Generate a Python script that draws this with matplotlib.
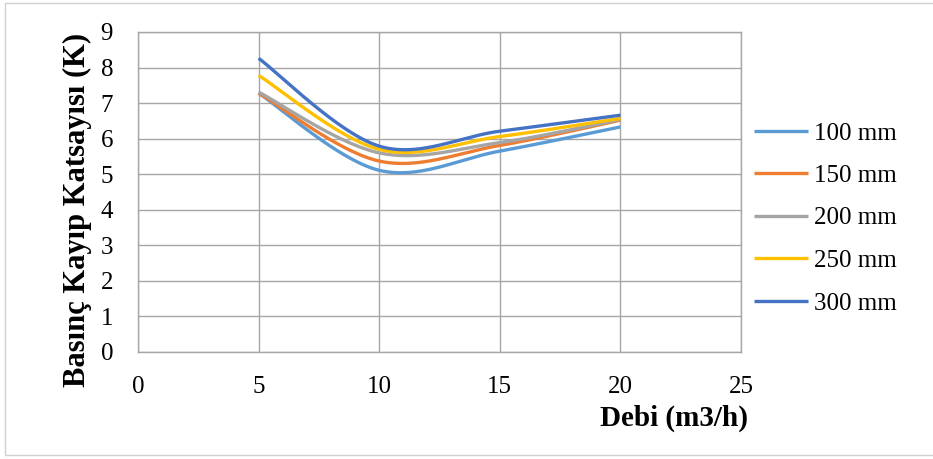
import matplotlib
matplotlib.use('Agg')
import matplotlib.pyplot as plt
import numpy as np
from matplotlib.patches import Rectangle

plt.rcParams['font.family'] = ['Liberation Serif', 'DejaVu Serif']

# flow rate (m3/h)
debi = [5, 10, 15, 20]
labels = ['100 mm', '150 mm', '200 mm', '250 mm', '300 mm']
k_100 = [7.28, 5.11, 5.65, 6.33]
k_150 = [7.28, 5.37, 5.81, 6.52]
k_200 = [7.31, 5.60, 5.89, 6.54]
k_250 = [7.78, 5.70, 6.06, 6.57]
k_300 = [8.26, 5.79, 6.21, 6.66]
colors = ['#5B9BD5', '#ED7D31', '#A5A5A5', '#FFC000', '#4472C4']


def smooth(xs, ys, n=60):
    # excel-like smoothed line (bezier through the points)
    p = np.column_stack([xs, ys]).astype(float)
    p = np.vstack([p[0], p, p[-1]])
    out = []
    t = np.linspace(0, 1, n)[:, None]
    for i in range(1, len(p) - 2):
        p0, p1, p2, p3 = p[i - 1], p[i], p[i + 1], p[i + 2]
        c1 = p1 + (p2 - p0) / 6
        c2 = p2 - (p3 - p1) / 6
        seg = (1 - t) ** 3 * p1 + 3 * t * (1 - t) ** 2 * c1 + 3 * t ** 2 * (1 - t) * c2 + t ** 3 * p2
        out.append(seg)
    out = np.vstack(out)
    return out[:, 0], out[:, 1]


W, H = 933, 459
fig = plt.figure(figsize=(W / 100, H / 100), dpi=100)
ax = fig.add_axes([138 / W, 1 - 352 / H, 603 / W, 320 / H])

series = [k_100, k_150, k_200, k_250, k_300]
for ys, lab, c in zip(series, labels, colors):
    sx, sy = smooth(debi, ys)
    ax.plot(sx, sy, color=c, lw=2.4, label=lab, solid_capstyle='butt')

ax.set_xlim(0, 25)
ax.set_ylim(0, 9)
ax.set_xticks(range(0, 26, 5))
ax.set_yticks(range(0, 10))
ax.grid(True, color='#a6a6a6', lw=1)
ax.set_axisbelow(True)
for s in ax.spines.values():
    s.set_color('#a6a6a6')
    s.set_linewidth(1)
ax.tick_params(length=0, labelsize=18)
ax.tick_params(axis='y', pad=18)
ax.tick_params(axis='x', pad=17)

fig.text(77 / W, 1 - 210 / H, 'Basınç Kayıp Katsayısı (K)', fontsize=22, fontweight='bold',
         rotation=90, ha='center', va='center')
fig.text(600 / W, 1 - 418 / H, 'Debi (m3/h)', fontsize=21, fontweight='bold', ha='left', va='center')

ax.legend(loc='upper left', bbox_to_anchor=(754 / W, 1 - 122 / H), bbox_transform=fig.transFigure,
          frameon=False, fontsize=18, handlelength=2.15, labelspacing=0.8, handletextpad=0.25,
          borderpad=0, borderaxespad=0)

fig.patches.append(Rectangle((5 / W, 4 / H), 1.0, 1 - 7 / H, transform=fig.transFigure,
                             fill=False, edgecolor='#d0d0d0', lw=1))

fig.savefig('out.png', dpi=100)
